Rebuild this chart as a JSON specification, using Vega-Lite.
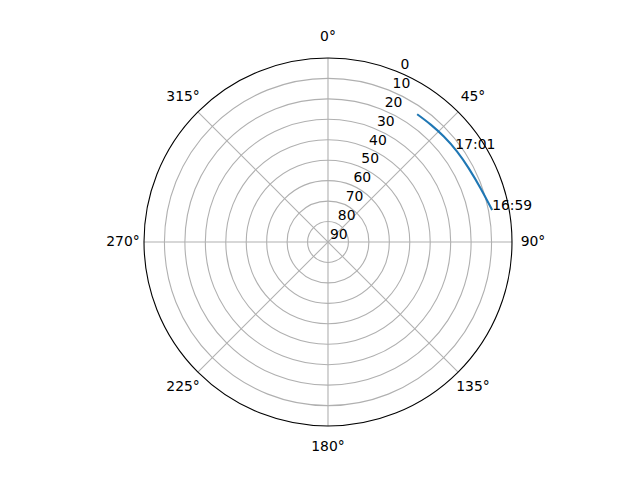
{
  "$schema": "https://vega.github.io/schema/vega-lite/v6.json",
  "width": 368,
  "height": 368,
  "autosize": {"type": "none"},
  "padding": {"left": 144, "top": 58, "right": 128, "bottom": 54},
  "background": "white",
  "config": {
    "view": {"stroke": null},
    "font": "DejaVu Sans",
    "text": {"font": "DejaVu Sans", "fontSize": 13.9, "color": "black"}
  },
  "datasets": {
    "rings": [
      {"el": 0}, {"el": 10}, {"el": 20}, {"el": 30}, {"el": 40},
      {"el": 50}, {"el": 60}, {"el": 70}, {"el": 80}, {"el": 90}
    ],
    "spokes": [
      {"spoke": "a", "az": 0}, {"spoke": "a", "az": 180},
      {"spoke": "b", "az": 45}, {"spoke": "b", "az": 225},
      {"spoke": "c", "az": 90}, {"spoke": "c", "az": 270},
      {"spoke": "d", "az": 135}, {"spoke": "d", "az": 315}
    ],
    "angles": [
      {"az": 0, "label": "0°"}, {"az": 45, "label": "45°"},
      {"az": 90, "label": "90°"}, {"az": 135, "label": "135°"},
      {"az": 180, "label": "180°"}, {"az": 225, "label": "225°"},
      {"az": 270, "label": "270°"}, {"az": 315, "label": "315°"}
    ],
    "track": [
      {"seq": 0, "az": 79.0, "el": 8.2},
      {"seq": 1, "az": 70.6, "el": 10.9},
      {"seq": 2, "az": 62.4, "el": 12.3},
      {"seq": 3, "az": 55.0, "el": 12.9},
      {"seq": 4, "az": 47.7, "el": 13.4},
      {"seq": 5, "az": 41.2, "el": 13.7},
      {"seq": 6, "az": 34.9, "el": 13.8}
    ],
    "times": [
      {"time": "16:59", "az": 79.0, "el": 8.2},
      {"time": "17:01", "az": 54.0, "el": 13.0}
    ]
  },
  "layer": [
    {
      "data": {"name": "rings"},
      "transform": [
        {"filter": "datum.el > 0 && datum.el < 90"},
        {"calculate": "90 - datum.el", "as": "zd"}
      ],
      "mark": {"type": "point", "shape": "circle", "filled": false, "color": "#b0b0b0", "strokeWidth": 1.1, "opacity": 1},
      "encoding": {
        "x": {"datum": 0, "type": "quantitative", "scale": {"domain": [-90, 90], "nice": false, "zero": false}, "axis": null},
        "y": {"datum": 0, "type": "quantitative", "scale": {"domain": [-90, 90], "nice": false, "zero": false}, "axis": null},
        "size": {"field": "zd", "type": "quantitative", "scale": {"type": "pow", "exponent": 2, "domain": [0, 90], "range": [0, 135424], "zero": true, "nice": false}, "legend": null}
      }
    },
    {
      "data": {"name": "spokes"},
      "transform": [
        {"calculate": "90 * sin(datum.az * PI / 180)", "as": "x"},
        {"calculate": "90 * cos(datum.az * PI / 180)", "as": "y"}
      ],
      "mark": {"type": "line", "color": "#b0b0b0", "strokeWidth": 1.1},
      "encoding": {
        "x": {"field": "x", "type": "quantitative", "scale": {"domain": [-90, 90], "nice": false, "zero": false}, "axis": null},
        "y": {"field": "y", "type": "quantitative", "scale": {"domain": [-90, 90], "nice": false, "zero": false}, "axis": null},
        "detail": {"field": "spoke", "type": "nominal"},
        "order": {"field": "az", "type": "quantitative"}
      }
    },
    {
      "data": {"name": "rings"},
      "transform": [
        {"filter": "datum.el == 0"},
        {"calculate": "90 - datum.el", "as": "zd"}
      ],
      "mark": {"type": "point", "shape": "circle", "filled": false, "color": "black", "strokeWidth": 1.1, "opacity": 1},
      "encoding": {
        "x": {"datum": 0, "type": "quantitative", "scale": {"domain": [-90, 90], "nice": false, "zero": false}, "axis": null},
        "y": {"datum": 0, "type": "quantitative", "scale": {"domain": [-90, 90], "nice": false, "zero": false}, "axis": null},
        "size": {"field": "zd", "type": "quantitative", "scale": {"type": "pow", "exponent": 2, "domain": [0, 90], "range": [0, 135424], "zero": true, "nice": false}, "legend": null}
      }
    },
    {
      "data": {"name": "track"},
      "transform": [
        {"calculate": "(90 - datum.el) * sin(datum.az * PI / 180)", "as": "x"},
        {"calculate": "(90 - datum.el) * cos(datum.az * PI / 180)", "as": "y"}
      ],
      "mark": {"type": "line", "color": "#1f77b4", "strokeWidth": 2.1, "interpolate": "natural"},
      "encoding": {
        "x": {"field": "x", "type": "quantitative", "scale": {"domain": [-90, 90], "nice": false, "zero": false}, "axis": null},
        "y": {"field": "y", "type": "quantitative", "scale": {"domain": [-90, 90], "nice": false, "zero": false}, "axis": null},
        "order": {"field": "seq", "type": "quantitative"}
      }
    },
    {
      "data": {"name": "times"},
      "transform": [
        {"calculate": "(90 - datum.el) * sin(datum.az * PI / 180)", "as": "x"},
        {"calculate": "(90 - datum.el) * cos(datum.az * PI / 180)", "as": "y"}
      ],
      "mark": {"type": "text", "align": "left", "baseline": "alphabetic"},
      "encoding": {
        "x": {"field": "x", "type": "quantitative", "scale": {"domain": [-90, 90], "nice": false, "zero": false}, "axis": null},
        "y": {"field": "y", "type": "quantitative", "scale": {"domain": [-90, 90], "nice": false, "zero": false}, "axis": null},
        "text": {"field": "time", "type": "nominal"}
      }
    },
    {
      "data": {"name": "rings"},
      "transform": [
        {"calculate": "(90 - datum.el) * sin(22.5 * PI / 180)", "as": "x"},
        {"calculate": "(90 - datum.el) * cos(22.5 * PI / 180)", "as": "y"}
      ],
      "mark": {"type": "text", "align": "left", "baseline": "alphabetic", "dx": 2, "dy": -3},
      "encoding": {
        "x": {"field": "x", "type": "quantitative", "scale": {"domain": [-90, 90], "nice": false, "zero": false}, "axis": null},
        "y": {"field": "y", "type": "quantitative", "scale": {"domain": [-90, 90], "nice": false, "zero": false}, "axis": null},
        "text": {"field": "el", "type": "nominal"}
      }
    },
    {
      "data": {"name": "angles"},
      "transform": [
        {"calculate": "100.27 * sin(datum.az * PI / 180)", "as": "x"},
        {"calculate": "100.27 * cos(datum.az * PI / 180)", "as": "y"}
      ],
      "mark": {"type": "text", "align": "center", "baseline": "middle"},
      "encoding": {
        "x": {"field": "x", "type": "quantitative", "scale": {"domain": [-90, 90], "nice": false, "zero": false}, "axis": null},
        "y": {"field": "y", "type": "quantitative", "scale": {"domain": [-90, 90], "nice": false, "zero": false}, "axis": null},
        "text": {"field": "label", "type": "nominal"}
      }
    }
  ]
}
